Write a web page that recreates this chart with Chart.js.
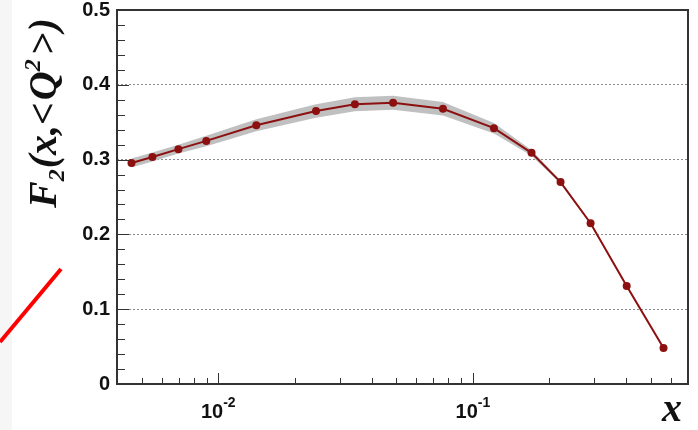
<!DOCTYPE html>
<html>
<head>
<meta charset="utf-8">
<script src="https://cdn.jsdelivr.net/npm/chart.js@4/dist/chart.umd.min.js"></script>
<style>
  html, body { margin: 0; padding: 0; background: #fff; }
  canvas { display: block; }
</style>
</head>
<body>
<canvas id="f2" width="698" height="430"></canvas>
<script>
// F2(x, <Q^2>) with its uncertainty band
const xs = [0.00456, 0.00551, 0.00697, 0.00897, 0.0141, 0.0242, 0.0344, 0.0486,
            0.0763, 0.121, 0.170, 0.221, 0.290, 0.402, 0.561];
const f2 = [0.2955, 0.3035, 0.314, 0.325, 0.346, 0.365, 0.374, 0.376,
            0.368, 0.342, 0.309, 0.270, 0.215, 0.131, 0.048];
const f2err = [0.006, 0.006, 0.006, 0.007, 0.008, 0.009, 0.0095, 0.0095,
               0.009, 0.007, 0.004, 0.002, 0.001, 0.0005, 0];

const xTicks = [0.005, 0.006, 0.007, 0.008, 0.009, 0.01,
                0.02, 0.03, 0.04, 0.05, 0.06, 0.07, 0.08, 0.09, 0.1,
                0.2, 0.3, 0.4, 0.5, 0.6];
const xLabels = [[0.01, '-2'], [0.1, '-1']];

const isMajorY = v => Math.abs(v * 10 - Math.round(v * 10)) < 1e-6;
const isMajorX = v => Math.abs(Math.log10(v) - Math.round(Math.log10(v))) < 1e-6;

const pts = arr => xs.map((x, i) => ({ x, y: arr[i] }));

const SANS = '"Liberation Sans", Arial, sans-serif';
const SERIF = '"Liberation Serif", "Times New Roman", serif';

const frame = {
  id: 'frame',
  beforeDraw(chart) {
    const ctx = chart.ctx;
    ctx.save();
    ctx.fillStyle = '#f6f6f6';
    ctx.fillRect(0, 0, 12, chart.height);
    ctx.restore();
  },
  afterDraw(chart) {
    const { ctx, chartArea: a, scales } = chart;
    ctx.save();
    // inward ticks
    ctx.strokeStyle = '#333';
    ctx.lineWidth = 1;
    ctx.beginPath();
    scales.x.ticks.forEach(t => {
      const px = Math.round(scales.x.getPixelForValue(t.value)) + 0.5;
      const len = isMajorX(t.value) ? 11 : 6;
      ctx.moveTo(px, a.bottom);
      ctx.lineTo(px, a.bottom - len);
    });
    scales.y.ticks.forEach(t => {
      const py = Math.round(scales.y.getPixelForValue(t.value)) + 0.5;
      const len = isMajorY(t.value) ? 12 : 8;
      ctx.moveTo(a.left, py);
      ctx.lineTo(a.left + len, py);
    });
    ctx.stroke();

    // box
    ctx.lineWidth = 2;
    ctx.strokeStyle = '#333';
    ctx.strokeRect(a.left, a.top, a.right - a.left, a.bottom - a.top);

    // decade labels with exponents
    ctx.fillStyle = '#111';
    ctx.textBaseline = 'alphabetic';
    xLabels.forEach(([v, exp]) => {
      const px = scales.x.getPixelForValue(v);
      ctx.font = `bold 20px ${SANS}`;
      const w1 = ctx.measureText('10').width;
      ctx.font = `bold 14px ${SANS}`;
      const w2 = ctx.measureText(exp).width;
      const x0 = px - (w1 + w2) / 2;
      ctx.font = `bold 20px ${SANS}`;
      ctx.fillText('10', x0, 418);
      ctx.font = `bold 14px ${SANS}`;
      ctx.fillText(exp, x0 + w1, 407);
    });

    // axis titles
    ctx.fillStyle = '#111';
    ctx.font = `italic bold 40px ${SERIF}`;
    ctx.fillText('x', 662, 421);

    ctx.translate(56, 208);
    ctx.rotate(-Math.PI / 2);
    const parts = [
      ['F', 40, 0, 0], ['2', 24, 8, 1], ['(x,', 40, 0, 0], ['<', 40, 0, 2], ['Q', 40, 0, 0],
      ['2', 24, -16, 4], ['>', 40, 0, 1], [')', 40, 0, 0]
    ];
    let cx = 0;
    parts.forEach(([s, size, dy, gap]) => {
      ctx.font = `italic bold ${size}px ${SERIF}`;
      ctx.fillText(s, cx, dy);
      cx += ctx.measureText(s).width + gap;
    });
    ctx.restore();

    // red marker stroke at left
    ctx.save();
    ctx.strokeStyle = '#ff0000';
    ctx.lineWidth = 4;
    ctx.beginPath();
    ctx.moveTo(0, 342);
    ctx.lineTo(61, 269);
    ctx.stroke();
    ctx.restore();
  }
};

new Chart(document.getElementById('f2'), {
  type: 'line',
  data: {
    datasets: [
      {
        data: pts(f2.map((v, i) => v + f2err[i])),
        borderWidth: 0,
        pointRadius: 0,
        fill: false,
        order: 2
      },
      {
        data: pts(f2.map((v, i) => v - f2err[i])),
        borderWidth: 0,
        pointRadius: 0,
        backgroundColor: '#c0c0c0',
        fill: '-1',
        order: 2
      },
      {
        data: pts(f2),
        borderColor: '#8c1010',
        backgroundColor: '#8c1010',
        borderWidth: 2,
        pointRadius: 4,
        pointBorderWidth: 0,
        fill: false,
        order: 0
      }
    ]
  },
  options: {
    responsive: false,
    animation: false,
    layout: { padding: { top: 10, right: 10, left: 0, bottom: 0 } },
    plugins: { legend: { display: false }, tooltip: { enabled: false } },
    scales: {
      x: {
        type: 'logarithmic',
        min: 0.004,
        max: 0.7,
        afterBuildTicks: axis => { axis.ticks = xTicks.map(value => ({ value })); },
        afterFit: axis => { axis.height = 46; axis.paddingLeft = 0; axis.paddingRight = 0; },
        ticks: { display: false, autoSkip: false },
        grid: { display: false },
        border: { display: false }
      },
      y: {
        min: 0,
        max: 0.5,
        afterFit: axis => { axis.width = 117; axis.paddingTop = 0; axis.paddingBottom = 0; },
        ticks: {
          stepSize: 0.02,
          autoSkip: false,
          padding: 7,
          color: '#111',
          font: { family: SANS, size: 20, weight: 'bold' },
          callback: v => isMajorY(v) ? (Math.abs(v) < 1e-9 ? '0' : (+v).toFixed(1)) : ''
        },
        grid: {
          drawTicks: false,
          lineWidth: 1,
          color: ctx => {
            const v = ctx.tick ? ctx.tick.value : 0;
            return isMajorY(v) && v > 0.05 && v < 0.45 ? '#8a8a8a' : 'rgba(0,0,0,0)';
          }
        },
        border: { display: false, dash: [2, 2] }
      }
    }
  },
  plugins: [frame]
});
</script>
</body>
</html>
